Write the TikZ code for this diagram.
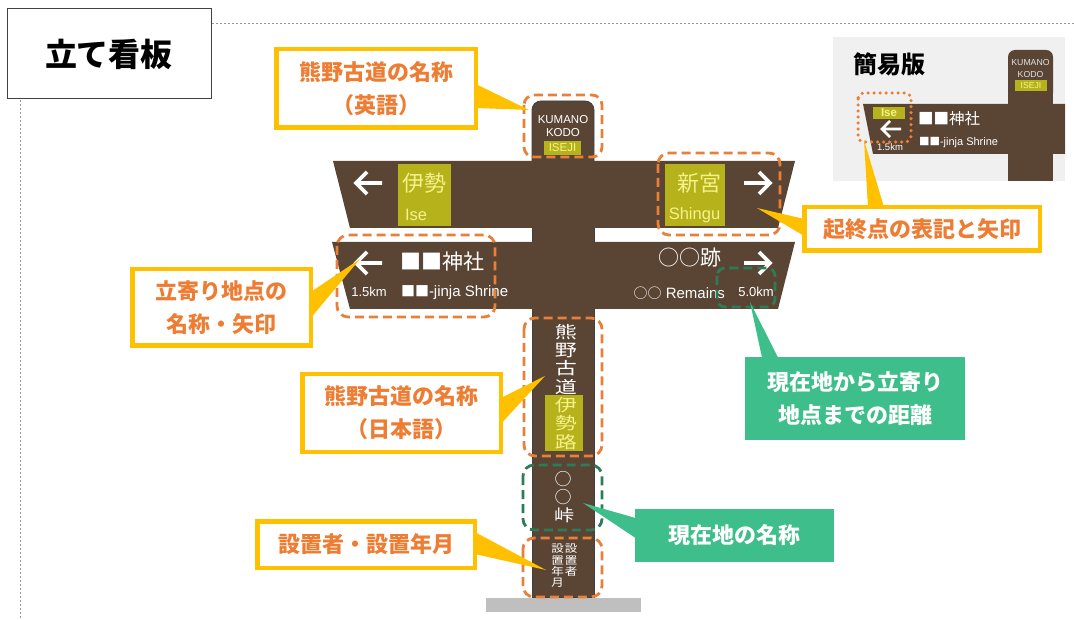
\documentclass[tikz,border=0pt]{standalone}
\usepackage{fontspec}
\usepackage{graphicx}
\setmainfont{Liberation Sans}
\newfontfamily\jp{Noto Sans CJK JP}
\usetikzlibrary{calc}
\definecolor{brn}{HTML}{5A4535}
\definecolor{olv}{HTML}{B5B21B}
\definecolor{pyl}{HTML}{F5F28C}
\definecolor{org}{HTML}{E9803A}
\definecolor{ylw}{HTML}{FFC000}
\definecolor{otx}{HTML}{EE7D33}
\definecolor{grn}{HTML}{3DBE8A}
\definecolor{dgr}{HTML}{2E7B58}
\definecolor{gbase}{HTML}{BFBFBF}
\definecolor{inbg}{HTML}{F0F0F0}
\newcommand\myfs[1]{\fontsize{#1}{#1}\selectfont}
\newcommand\vsq[1]{\scalebox{1.05}[0.8]{#1}}
\begin{document}
\begin{tikzpicture}[x=1pt,y=-1pt,
  lbl/.style={inner sep=0pt,outer sep=0pt},
  wt/.style={lbl,text=white},
  arr/.style={draw=white,line width=3.6pt,line join=miter,line cap=butt},
  odash/.style={draw=org,line width=2.8pt,dash pattern=on 9pt off 5pt,rounded corners=11pt},
  gdash/.style={draw=dgr,line width=2.8pt,dash pattern=on 9pt off 5pt,rounded corners=11pt},
  ybox/.style={draw=ylw,line width=4.5pt,fill=white,text=otx,font=\jp\bfseries\fontsize{22}{33}\selectfont,align=center,inner sep=0pt,outer sep=0pt},
  gbox/.style={fill=grn,text=white,font=\jp\bfseries\fontsize{22}{33}\selectfont,align=center,inner sep=0pt,outer sep=0pt},
  guide/.style={draw=black!40,line width=0.8pt,dash pattern=on 2pt off 2pt},
  postbody/.style={fill=brn,draw=black!75,line width=0.8pt},
  vt/.style={wt,font=\jp\myfs{21}},
]
\useasboundingbox[fill=white] (0,0) rectangle (1074,620);

% guide lines and title
\draw[guide] (212,23) -- (1074,23);
\draw[guide] (20,100) -- (20,620);
\node[draw=black!75,line width=1pt,fill=white,minimum width=204pt,minimum height=90pt,inner sep=0pt,font=\jp\bfseries\myfs{32}] (title) at (109,54) {立て看板};

% post
\fill[gbase] (486,598) rectangle (641,612);
\draw[postbody,rounded corners=9pt] (532,101) rectangle (594,200);
\draw[postbody] (532,165) rectangle (594,597);

% top piece text
\node[wt,font=\myfs{11.5}] (kum) at (563,120) {KUMANO};
\node[wt,font=\myfs{11.5}] (kod) at (563,133) {KODO};
\fill[olv] (544,141) rectangle (581,155);
\node[lbl,text=pyl,font=\myfs{11.5}] (isj) at (562.5,148) {ISEJI};

% board 1
\fill[brn] (333,161) -- (795,161) -- (778,228) -- (350,228) -- cycle;
\draw[arr] (382,183) -- (356,183) (367,172) -- (356,183) -- (367,194);
\fill[olv] (398,164) rectangle (451,226);
\node[lbl,text=pyl,font=\jp\myfs{22}] (ise1) at (424.5,183) {伊勢};
\node[lbl,text=pyl,font=\myfs{16.5},anchor=west] (ise2) at (405,215) {Ise};
\fill[olv] (665,164) rectangle (725,226);
\node[lbl,text=pyl,font=\jp\myfs{22}] (shg1) at (699,183) {新宮};
\node[lbl,text=pyl,font=\myfs{16.5}] (shg2) at (694.5,215) {Shingu};
\draw[arr] (744,183) -- (770,183) (759,172) -- (770,183) -- (759,194);

% board 2
\fill[brn] (332,242) -- (795,242) -- (778,309) -- (350,309) -- cycle;
\draw[arr] (382,263) -- (356,263) (367,252) -- (356,263) -- (367,274);
\node[wt,font=\jp\myfs{21},anchor=west] (jin) at (400,262) {■■神社};
\node[wt,font=\myfs{13}] (km1) at (369,292) {1.5km};
\node[wt,font=\myfs{15},anchor=west] (jinE) at (401,293) {{\jp\myfs{14}■■}-jinja Shrine};
\node[wt,font=\jp\myfs{21}] (ato) at (690,258) {○○跡};
\draw[arr] (744,263) -- (770,263) (759,252) -- (770,263) -- (759,274);
\node[wt,font=\myfs{15},anchor=east] (rem) at (725,293) {{\jp\myfs{14}○○} Remains};
\node[wt,font=\myfs{13}] (km2) at (756,292) {5.0km};

% vertical text on post
\foreach \c [count=\i] in {熊,野,古,道}
  \node[vt] (v\i) at (566,{332+18.3*(\i-1)}) {\vsq{\c}};
\fill[olv] (545,395) rectangle (583,451);
\foreach \c [count=\i] in {伊,勢,路}
  \node[vt,text=pyl] (w\i) at (566,{405+18.3*(\i-1)}) {\vsq{\c}};
\node[wt,font=\jp\myfs{17}] (m1) at (563,479) {○};
\node[wt,font=\jp\myfs{17}] (m2) at (563,497) {○};
\node[wt,font=\jp\myfs{20}] (m3) at (564,515) {\scalebox{1}[0.82]{峠}};
\foreach \c [count=\i] in {設,置,者}
  \node[wt,font=\jp\myfs{12.5}] (s\i) at (571,{549+11.3*(\i-1)}) {\scalebox{1}[0.85]{\c}};
\foreach \c [count=\i] in {設,置,年,月}
  \node[wt,font=\jp\myfs{12.5}] (u\i) at (557.5,{549+11.3*(\i-1)}) {\scalebox{1}[0.85]{\c}};

% dashed highlight boxes
\draw[odash,rounded corners=10pt] (524,95) rectangle (602,157);
\draw[odash] (658,153) rectangle (780,235);
\draw[odash] (337,235) rectangle (495,317);
\draw[odash] (524,318) rectangle (602,456);
\draw[odash] (523,538) rectangle (602,597);
\draw[gdash,rounded corners=8pt] (717,268) rectangle (775,307);
\draw[gdash] (523,465) rectangle (602,530);

% inset (simple version)
\fill[inbg] (833,37) rectangle (1065,181);
\node[lbl,font=\jp\bfseries\myfs{24}] (kan) at (889,64) {簡易版};
\fill[brn,rounded corners=7pt] (1008,50) rectangle (1053,100);
\fill[brn] (1008,80) rectangle (1053,181);
\node[lbl,text=black!12,font=\myfs{8.7}] (ikum) at (1030.5,63) {KUMANO};
\node[lbl,text=black!12,font=\myfs{8.7}] (ikod) at (1030.5,75) {KODO};
\fill[olv] (1015,80) rectangle (1047,91);
\node[lbl,text=pyl,font=\myfs{8.7}] (iisj) at (1031,85.5) {ISEJI};
\fill[brn] (863,104) -- (1065,104) -- (1065,154) -- (873,154) -- cycle;
\fill[olv] (873,107) rectangle (905,119);
\node[lbl,text=pyl,font=\bfseries\myfs{11.5}] (iise) at (889,113) {Ise};
\draw[arr,line width=2.8pt] (901,129) -- (882,129) (890,121) -- (882,129) -- (890,137);
\node[wt,font=\myfs{9.5}] (ikm) at (890,147) {1.5km};
\node[wt,font=\jp\myfs{15.5},anchor=west] (ijin) at (918,119) {■■神社};
\node[wt,font=\myfs{11},anchor=west] (ijinE) at (919,143) {{\jp\myfs{10.5}■■}-jinja Shrine};
\draw[draw=org,line width=3.5pt,dash pattern=on 0pt off 6pt,line cap=round,rounded corners=6pt] (858,93) rectangle (911,142);

% callouts
\coordinate (t1) at (529,110);
\coordinate (t2) at (757,208);
\coordinate (t2b) at (864,140);
\coordinate (t3) at (360,259);
\coordinate (t4) at (545,376);
\coordinate (t5) at (546,570);
\coordinate (t6) at (750,302);
\coordinate (t7) at (583,503);

\node[ybox,minimum width=199.5pt,minimum height=78.5pt] (c1) at (376,88.5) {熊野古道の名称\\（英語）};
\fill[ylw] ($(c1.east)+(0,-4.5)$) -- (t1) -- ($(c1.east)+(0,19.5)$) -- cycle;

\node[ybox,minimum width=235.5pt,minimum height=43.5pt] (c2) at (922,229) {起終点の表記と矢印};
\fill[ylw] ($(c2.west)+(0,-10)$) -- (t2) -- ($(c2.west)+(0,7)$) -- cycle;
\fill[ylw] ($(c2.north)+(-54,0)$) -- (t2b) -- ($(c2.north)+(-38,0)$) -- cycle;

\node[ybox,minimum width=178.5pt,minimum height=76.5pt] (c3) at (221.5,307.5) {立寄り地点の\\名称・矢印};
\fill[ylw] ($(c3.east)+(0,-15.5)$) -- (t3) -- ($(c3.east)+(0,10.5)$) -- cycle;

\node[ybox,minimum width=198.5pt,minimum height=77.5pt] (c4) at (401.5,413) {熊野古道の名称\\（日本語）};
\fill[ylw] ($(c4.east)+(0,-15)$) -- (t4) -- ($(c4.east)+(0,11)$) -- cycle;

\node[ybox,minimum width=217.5pt,minimum height=46.5pt] (c5) at (366,544.5) {設置者・設置年月};
\fill[ylw] ($(c5.east)+(0,-12.5)$) -- (t5) -- ($(c5.east)+(0,9.5)$) -- cycle;

\node[gbox,minimum width=220pt,minimum height=83pt] (c6) at (855,398.5) {現在地から立寄り\\地点までの距離};
\fill[grn] ($(c6.north)+(-93,0.5)$) -- (t6) -- ($(c6.north)+(-77,0.5)$) -- cycle;

\node[gbox,minimum width=199pt,minimum height=53pt] (c7) at (734.5,535.5) {現在地の名称};
\fill[grn] ($(c7.west)+(0.5,-17.5)$) -- (t7) -- ($(c7.west)+(0.5,2.5)$) -- cycle;
\end{tikzpicture}
\end{document}
